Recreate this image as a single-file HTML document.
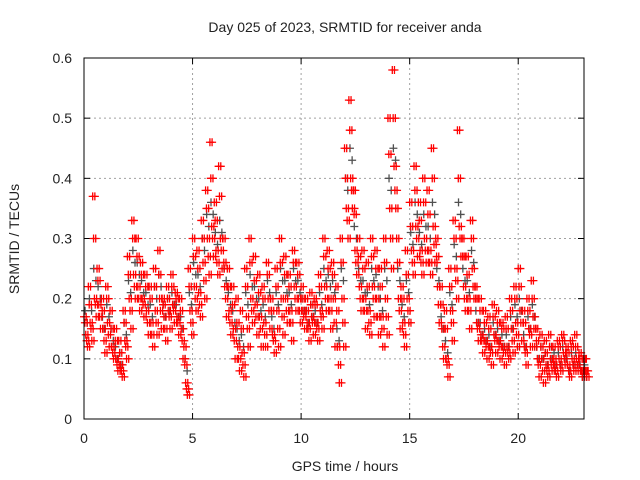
<!DOCTYPE html>
<html><head><meta charset="utf-8"><style>
body{margin:0;background:#fff}
svg{display:block}
text{font-family:"Liberation Sans",sans-serif;font-size:14px;fill:#222}
</style></head><body>
<svg id="chart" width="640" height="480" viewBox="0 0 640 480">
<rect width="640" height="480" fill="#fff"/>
<text x="345" y="32" text-anchor="middle">Day 025 of 2023, SRMTID for receiver anda</text>
<text x="345" y="471" text-anchor="middle">GPS time / hours</text>
<text transform="translate(19,239) rotate(-90)" text-anchor="middle">SRMTID / TECUs</text>
<g id="grid"></g>
<g id="ticks"></g>
<g id="grey"></g>
<g id="red"></g>
<rect x="84" y="58" width="500" height="361" fill="none" stroke="#000" stroke-width="1"/>
</svg>
<script>
const xTicks=[0,5,10,15,20];
const yTicks=[0,0.1,0.2,0.3,0.4,0.5,0.6];
const yTickLabels=["0","0.1","0.2","0.3","0.4","0.5","0.6"];
const startHour=0, stepHour=0.2;
const redA=[0.17,0.22,0.37,0.25,0.2,0.22,0.18,0.15,0.13,0.18,0.27,0.33,0.3,0.26,0.24,0.22,0.25,0.28,0.2,0.22,0.24,0.21,0.2,0.12,0.25,0.3,0.28,0.33,0.38,0.46,0.36,0.42,0.3,0.25,0.22,0.2,0.18,0.25,0.3,0.27,0.24,0.22,0.26,0.2,0.25,0.3,0.27,0.24,0.28,0.26,0.22,0.2,0.21,0.2,0.24,0.3,0.28,0.26,0.22,0.3,0.45,0.53,0.38,0.3,0.28,0.26,0.3,0.28,0.25,0.3,0.5,0.58,0.3,0.22,0.28,0.36,0.42,0.36,0.4,0.38,0.45,0.3,0.22,0.18,0.25,0.33,0.48,0.3,0.27,0.33,0.22,0.2,0.18,0.17,0.19,0.18,0.16,0.17,0.2,0.22,0.25,0.18,0.2,0.23,0.15,0.14,0.13,0.14,0.12,0.13,0.14,0.12,0.13,0.14,0.11,0.1];
const redB=[0.14,0.16,0.2,0.19,0.15,0.16,0.12,0.1,0.09,0.13,0.2,0.24,0.22,0.2,0.18,0.16,0.18,0.2,0.17,0.18,0.19,0.17,0.15,0.06,0.18,0.22,0.21,0.26,0.3,0.32,0.28,0.3,0.22,0.18,0.15,0.12,0.11,0.17,0.2,0.19,0.17,0.16,0.2,0.14,0.18,0.2,0.2,0.18,0.22,0.2,0.18,0.16,0.17,0.16,0.18,0.22,0.2,0.2,0.12,0.2,0.35,0.4,0.28,0.22,0.2,0.18,0.22,0.2,0.17,0.2,0.35,0.42,0.2,0.16,0.2,0.28,0.32,0.28,0.3,0.28,0.32,0.22,0.15,0.1,0.18,0.25,0.32,0.22,0.2,0.25,0.16,0.14,0.13,0.12,0.14,0.13,0.12,0.12,0.15,0.16,0.18,0.12,0.15,0.17,0.1,0.1,0.09,0.1,0.09,0.1,0.11,0.09,0.1,0.1,0.08,0.08];
const redC=[0.12,0.13,0.17,0.15,0.11,0.12,0.1,0.08,0.07,0.1,0.15,0.2,0.18,0.17,0.14,0.12,0.14,0.15,0.13,0.15,0.16,0.14,0.1,0.04,0.14,0.18,0.17,0.2,0.24,0.27,0.24,0.25,0.17,0.14,0.1,0.08,0.07,0.12,0.16,0.14,0.12,0.12,0.15,0.11,0.12,0.14,0.16,0.13,0.18,0.16,0.15,0.13,0.14,0.13,0.15,0.18,0.15,0.12,0.06,0.12,0.3,0.35,0.24,0.18,0.15,0.14,0.17,0.14,0.12,0.14,0.25,0.35,0.15,0.12,0.16,0.24,0.27,0.24,0.26,0.24,0.26,0.16,0.1,0.07,0.13,0.2,0.27,0.18,0.15,0.2,0.13,0.11,0.1,0.09,0.11,0.1,0.09,0.1,0.11,0.12,0.13,0.09,0.12,0.12,0.07,0.06,0.07,0.08,0.07,0.08,0.09,0.07,0.08,0.08,0.07,0.07];
const redD=[0.16,0.19,0.3,0.23,0.18,0.2,0.15,0.13,0.11,0.16,0.24,0.3,0.27,0.24,0.22,0.2,0.22,0.24,0.19,0.2,0.22,0.2,0.18,0.09,0.22,0.27,0.25,0.3,0.35,0.4,0.33,0.37,0.26,0.22,0.19,0.16,0.15,0.22,0.26,0.23,0.21,0.2,0.24,0.18,0.22,0.26,0.24,0.22,0.26,0.24,0.2,0.18,0.19,0.19,0.22,0.27,0.25,0.24,0.18,0.26,0.4,0.48,0.34,0.27,0.25,0.22,0.27,0.25,0.22,0.26,0.44,0.5,0.26,0.2,0.24,0.32,0.38,0.33,0.36,0.34,0.4,0.27,0.19,0.15,0.22,0.3,0.4,0.27,0.24,0.3,0.2,0.18,0.16,0.15,0.17,0.16,0.15,0.15,0.18,0.2,0.22,0.16,0.18,0.2,0.13,0.12,0.11,0.12,0.1,0.12,0.13,0.11,0.12,0.12,0.1,0.1];
const redE=[0.13,0.15,0.19,0.17,0.13,0.14,0.11,0.09,0.08,0.12,0.18,0.22,0.2,0.19,0.16,0.14,0.16,0.18,0.15,0.17,0.18,0.16,0.13,0.05,0.16,0.2,0.19,0.23,0.27,0.3,0.26,0.28,0.2,0.16,0.13,0.1,0.09,0.15,0.18,0.17,0.15,0.14,0.18,0.13,0.15,0.17,0.18,0.16,0.2,0.18,0.17,0.15,0.16,0.15,0.17,0.2,0.18,0.16,0.09,0.16,0.33,0.38,0.26,0.2,0.18,0.16,0.2,0.17,0.15,0.17,0.3,0.38,0.18,0.14,0.18,0.26,0.3,0.26,0.28,0.26,0.29,0.19,0.12,0.09,0.16,0.23,0.3,0.2,0.18,0.22,0.15,0.13,0.12,0.11,0.13,0.12,0.11,0.11,0.13,0.14,0.16,0.11,0.14,0.15,0.09,0.08,0.08,0.09,0.08,0.09,0.1,0.08,0.09,0.09,0.08,0.08];
const greyVals=[0.18,0.2,0.25,0.22,0.17,0.19,0.15,0.12,0.11,0.16,0.23,0.28,0.26,0.23,0.21,0.19,0.22,0.24,0.19,0.2,0.21,0.19,0.17,0.1,0.21,0.26,0.24,0.3,0.34,0.36,0.31,0.33,0.25,0.21,0.18,0.15,0.14,0.21,0.24,0.22,0.2,0.19,0.23,0.17,0.21,0.25,0.23,0.21,0.25,0.23,0.2,0.18,0.19,0.18,0.21,0.25,0.24,0.23,0.15,0.25,0.4,0.45,0.32,0.25,0.23,0.21,0.25,0.24,0.2,0.25,0.4,0.45,0.25,0.19,0.23,0.31,0.36,0.31,0.34,0.32,0.36,0.25,0.17,0.13,0.21,0.29,0.36,0.25,0.23,0.28,0.18,0.16,0.15,0.14,0.16,0.15,0.14,0.14,0.17,0.19,0.2,0.14,0.17,0.19,0.12,0.12,0.11,0.12,0.11,0.11,0.12,0.1,0.11,0.11,0.09,0.09];

const NS="http://www.w3.org/2000/svg";
const X0=84,X1=584,Y0=419,Y1=58,XMAX=23.03,YMAX=0.6;
const xs=h=>X0+h/XMAX*(X1-X0);
const ys=v=>Y0-v/YMAX*(Y0-Y1);
function mk(tag,attrs,parent){const e=document.createElementNS(NS,tag);for(const k in attrs)e.setAttribute(k,attrs[k]);parent.appendChild(e);return e;}
const grid=document.getElementById('grid'),ticks=document.getElementById('ticks');
xTicks.forEach(t=>{const x=xs(t);
 if(t>0){const g=mk('line',{x1:x,y1:Y1,x2:x,y2:Y0,stroke:'#a0a0a0','stroke-dasharray':'2,3'},grid);
 
 }
 mk('line',{x1:x,y1:Y0,x2:x,y2:Y0-6,stroke:'#000'},ticks);
 mk('line',{x1:x,y1:Y1,x2:x,y2:Y1+6,stroke:'#000'},ticks);
 const tx=mk('text',{x:x,y:Y0+24,'text-anchor':'middle'},ticks);tx.textContent=t;
 
 
});
yTicks.forEach((t,i)=>{const y=ys(t);
 if(t>0&&t<YMAX){const g=mk('line',{x1:X0,y1:y,x2:X1,y2:y,stroke:'#a0a0a0','stroke-dasharray':'2,3'},grid);
 
 }
 mk('line',{x1:X0,y1:y,x2:X0+6,y2:y,stroke:'#000'},ticks);
 mk('line',{x1:X1,y1:y,x2:X1-6,y2:y,stroke:'#000'},ticks);
 const tx=mk('text',{x:X0-12,y:y+5,'text-anchor':'end'},ticks);tx.textContent=yTickLabels[i];
 
 
});
function plus(parent,h,v,color){const x=xs(h),y=ys(v);
 const p=mk('path',{d:`M${x-4},${y}H${x+4}M${x},${y-4}V${y+4}`,stroke:color,'stroke-width':1.3,fill:'none'},parent);
 
 }
const gG=document.getElementById('grey'),gR=document.getElementById('red');
greyVals.forEach((v,i)=>{plus(gG,startHour+i*stepHour+0.05,v,'#505050');plus(gG,startHour+i*stepHour+0.15,v-0.02,'#505050');});
[[redA,0],[redD,0.04],[redB,0.08],[redE,0.12],[redC,0.16]].forEach(([arr,off])=>{
 arr.forEach((v,i)=>{plus(gR,startHour+i*stepHour+off,v,'#ff0000');plus(gR,startHour+i*stepHour+off+0.1,v,'#ff0000');});
});
</script>
</body></html>
